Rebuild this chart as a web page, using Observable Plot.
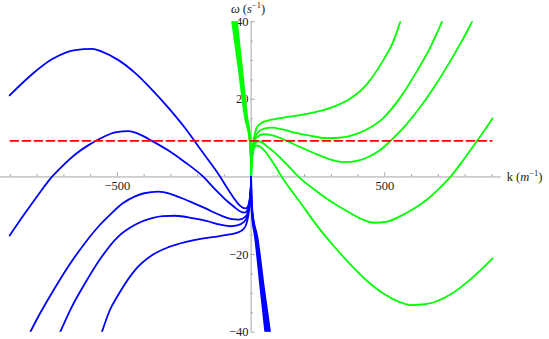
<!DOCTYPE html>
<html><head><meta charset="utf-8">
<script src="https://cdn.jsdelivr.net/npm/d3@7"></script>
<script src="https://cdn.jsdelivr.net/npm/@observablehq/plot@0.6"></script>
<style>html,body{margin:0;padding:0;background:#fff}#chart svg{display:block}#chart svg text{font-family:"Liberation Serif","Times New Roman",Tinos,"DejaVu Serif",serif !important}</style>
</head><body><div id="chart"></div>
<script>
// ---- data (k in 1/m, omega in 1/s) ----
// green branches, k > 0
const greenA = [[0,0],[1,3.1],[3,5.4],[6,7.6],[10,9.8],[15,11.4],[20,12.5],[30,13.5],[40,14.0],[65,14.6],[90,14.9],[122,15.3],[184,15.9],[247,16.8],[309,18.1],[371,20.2],[434,24.0],[496,30.3],[530,34.6],[558,40]];
const greenB = [[0,0],[1,2.8],[3,5.0],[6,7.0],[10,8.8],[15,10.2],[20,11.0],[27,11.6],[52,12.5],[77,12.7],[114,12.3],[164,11.4],[214,10.7],[284,10.0],[330,10.1],[371,10.6],[434,12.3],[496,15.3],[558,20.5],[621,27.4],[670,33.4],[714,40]];
const greenC = [[0,0],[1,2.7],[3,4.8],[6,6.8],[10,8.4],[15,9.6],[21,10.2],[46,11.0],[77,10.8],[114,9.9],[134,9.3],[164,8.3],[214,6.8],[247,5.8],[300,4.4],[346,3.8],[400,4.2],[434,5.0],[480,6.8],[521,9.3],[570,12.7],[621,17.0],[683,23.0],[745,29.9],[795,35.9],[826,40]];
const greenD = [[0,0],[1,2.6],[3,4.6],[6,6.5],[10,7.8],[15,8.7],[25,9.2],[40,8.9],[65,7.6],[90,6.2],[114,4.6],[140,2.8],[178,0],[247,-3.8],[309,-6.8],[371,-9.3],[415,-10.9],[458,-11.8],[508,-11.5],[558,-10.1],[608,-8.2],[658,-5.8],[700,-3.2],[745,0],[795,4.5],[845,9.3],[903,15.1]];
const greenE = [[0,0],[1,2.4],[3,4.3],[6,6.0],[10,7.2],[15,7.9],[22,8.1],[34,7.8],[50,6.8],[65,5.4],[90,2.8],[115,0],[184,-6.6],[247,-12.6],[309,-17.8],[371,-22.5],[434,-26.8],[496,-30.1],[558,-32.3],[595,-33.0],[658,-32.7],[745,-30.3],[820,-26.4],[903,-21.0]];
// green steep branches, k < 0
const greenW1 = [[-71,40],[-48,28.6],[-24,15.7],[-5,9],[-2,6],[-0.5,3],[0,0]];
const greenW2 = [[-66.5,40],[-44.8,28.6],[-21.7,15.7],[-4.3,9],[-1.7,6],[-0.4,3],[0,0]];
const greenW3 = [[-62,40],[-41.5,28.6],[-19.5,15.7],[-3.6,9],[-1.4,6],[-0.3,3],[0,0]];
const greenW4 = [[-57.5,40],[-38.2,28.6],[-17.2,15.7],[-2.9,9],[-1.1,6],[-0.2,3],[0,0]];
const greenW5 = [[-53,40],[-35,28.6],[-15,15.7],[-2.2,9],[-0.8,6],[-0.1,3],[0,0]];
// blue branches, k < 0
const blueA = [[0,0],[-1,-3.1],[-3,-5.4],[-6,-7.6],[-10,-9.8],[-15,-11.4],[-20,-12.5],[-30,-13.5],[-40,-14.0],[-65,-14.6],[-90,-14.9],[-122,-15.3],[-184,-15.9],[-247,-16.8],[-309,-18.1],[-371,-20.2],[-434,-24.0],[-496,-30.3],[-530,-34.6],[-558,-40]];
const blueB = [[0,0],[-1,-2.8],[-3,-5.0],[-6,-7.0],[-10,-8.8],[-15,-10.2],[-20,-11.0],[-27,-11.6],[-52,-12.5],[-77,-12.7],[-114,-12.3],[-164,-11.4],[-214,-10.7],[-284,-10.0],[-330,-10.1],[-371,-10.6],[-434,-12.3],[-496,-15.3],[-558,-20.5],[-621,-27.4],[-670,-33.4],[-714,-40]];
const blueC = [[0,0],[-1,-2.7],[-3,-4.8],[-6,-6.8],[-10,-8.4],[-15,-9.6],[-21,-10.2],[-46,-11.0],[-77,-10.8],[-114,-9.9],[-134,-9.3],[-164,-8.3],[-214,-6.8],[-247,-5.8],[-300,-4.4],[-346,-3.8],[-400,-4.2],[-434,-5.0],[-480,-6.8],[-521,-9.3],[-570,-12.7],[-621,-17.0],[-683,-23.0],[-745,-29.9],[-795,-35.9],[-826,-40]];
const blueD = [[0,0],[-1,-2.6],[-3,-4.6],[-6,-6.5],[-10,-7.8],[-15,-8.7],[-25,-9.2],[-40,-8.9],[-65,-7.6],[-90,-6.2],[-114,-4.6],[-140,-2.8],[-178,0],[-247,3.8],[-309,6.8],[-371,9.3],[-415,10.9],[-458,11.8],[-508,11.5],[-558,10.1],[-608,8.2],[-658,5.8],[-700,3.2],[-745,0],[-795,-4.5],[-845,-9.3],[-903,-15.1]];
const blueE = [[0,0],[-1,-2.4],[-3,-4.3],[-6,-6.0],[-10,-7.2],[-15,-7.9],[-22,-8.1],[-34,-7.8],[-50,-6.8],[-65,-5.4],[-90,-2.8],[-115,0],[-184,6.6],[-247,12.6],[-309,17.8],[-371,22.5],[-434,26.8],[-496,30.1],[-558,32.3],[-595,33.0],[-658,32.7],[-745,30.3],[-820,26.4],[-903,21.0]];
// blue steep branches, k > 0
const blueW1 = [[71,-40],[48,-28.6],[24,-15.7],[5,-9],[2,-6],[0.5,-3],[0,0]];
const blueW2 = [[66.5,-40],[44.8,-28.6],[21.7,-15.7],[4.3,-9],[1.7,-6],[0.4,-3],[0,0]];
const blueW3 = [[62,-40],[41.5,-28.6],[19.5,-15.7],[3.6,-9],[1.4,-6],[0.3,-3],[0,0]];
const blueW4 = [[57.5,-40],[38.2,-28.6],[17.2,-15.7],[2.9,-9],[1.1,-6],[0.2,-3],[0,0]];
const blueW5 = [[53,-40],[35,-28.6],[15,-15.7],[2.2,-9],[0.8,-6],[0.1,-3],[0,0]];
// reference level and axes
const levelOmega = 9.3;
const levelK = [-900, 900];
const xMajorTicks = [-500, 500];
const xMinorTicks = [-900,-800,-700,-600,-400,-300,-200,-100,100,200,300,400,600,700,800,900];
const yMajorTicks = [-40, -20, 20, 40];
const yMinorTicks = [-35,-30,-25,-15,-10,-5,5,10,15,25,30,35];

const greens = [greenA, greenB, greenC, greenD, greenE];
const greenWs = [greenW1, greenW2, greenW3, greenW4, greenW5];
const blues = [blueA, blueB, blueC, blueD, blueE];
const blueWs = [blueW1, blueW2, blueW3, blueW4, blueW5];
const toRows = (arrs, tag) => arrs.flatMap((a, i) => a.map(([k, w]) => ({k, w, s: tag + i})));
const greenRows = toRows(greens, "g").concat(toRows(greenWs, "gw"));
const blueRows = toRows(blues, "b").concat(toRows(blueWs, "bw"));
const fmt = d => (d < 0 ? "\u2212" : "") + Math.abs(d);
const FONT = "Liberation Serif, Times New Roman, serif";

const chart = Plot.plot({
  width: 549, height: 339,
  marginLeft: 0, marginRight: 48.3, marginTop: 21.2, marginBottom: 7.3,
  x: {domain: [-937, 935], axis: null},
  y: {domain: [-40, 40], axis: null},
  style: {background: "#fff"},
  marks: [
    Plot.ruleY([0], {stroke: "#a6a6a6", strokeWidth: 1}),
    Plot.ruleX([0], {stroke: "#a6a6a6", strokeWidth: 1}),
    Plot.ruleX(xMinorTicks, {x: d => d, y1: 0, y2: 0.6, stroke: "#a6a6a6"}),
    Plot.ruleX(xMajorTicks, {x: d => d, y1: 0, y2: 1.1, stroke: "#a6a6a6"}),
    Plot.ruleY(yMinorTicks, {y: d => d, x1: 0, x2: 9, stroke: "#a6a6a6"}),
    Plot.ruleY(yMajorTicks, {y: d => d, x1: 0, x2: 15, stroke: "#a6a6a6"}),
    Plot.text(xMajorTicks, {x: d => d, y: 0, dy: 9, text: fmt, fontSize: 12.5, fontFamily: FONT, fill: "#222"}),
    Plot.text(yMajorTicks, {x: 0, y: d => d, dx: -2.5, textAnchor: "end", text: fmt, fontSize: 12.5, fontFamily: FONT, fill: "#222"}),
    Plot.line(greenRows, {x: "k", y: "w", z: "s", stroke: "#00ff00", strokeWidth: 1.8, curve: "monotone-x", clip: true}),
    Plot.line(blueRows, {x: "k", y: "w", z: "s", stroke: "#0000ff", strokeWidth: 1.8, curve: "monotone-x", clip: true}),
    Plot.lineY(levelK, {x: d => d, y: levelOmega, stroke: "#ff0000", strokeWidth: 1.8, strokeDasharray: "8,4"})
  ]
});
document.getElementById("chart").appendChild(chart);

// axis titles with superscripts
const xs = chart.scale("x"), ys = chart.scale("y");
const svg = d3.select(chart);
const t1 = svg.append("text").attr("x", xs.apply(0) - 19.7).attr("y", ys.apply(40) - 8)
  .style("font-family", FONT).attr("font-size", 12.5).attr("fill", "#222").attr("text-anchor", "start");
t1.append("tspan").attr("font-style", "italic").text("\u03c9");
t1.append("tspan").text(" (");
t1.append("tspan").attr("font-style", "italic").text("s");
t1.append("tspan").attr("font-size", 8.5).attr("dy", -5).text("\u22121");
t1.append("tspan").attr("dy", 5).text(")");
const t2 = svg.append("text").attr("x", xs.apply(935) + 6).attr("y", ys.apply(0) + 4.5)
  .style("font-family", FONT).attr("font-size", 12.5).attr("fill", "#222").attr("text-anchor", "start");
t2.append("tspan").text("k (");
t2.append("tspan").attr("font-style", "italic").text("m");
t2.append("tspan").attr("font-size", 8.5).attr("dy", -5).text("\u22121");
t2.append("tspan").attr("dy", 5).text(")");
</script>
</body></html>
